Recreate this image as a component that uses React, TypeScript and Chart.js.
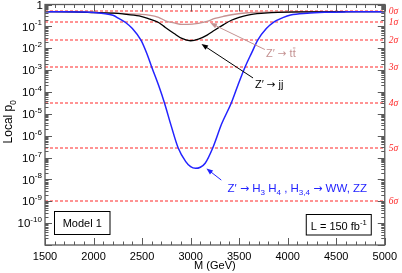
import React, { useEffect, useRef } from "react";
import { Chart, registerables } from "chart.js";

Chart.register(...registerables);

// ---------- data ----------
const blueMass = [1500, 1700, 1900, 2000, 2100, 2200, 2260, 2330, 2400, 2490, 2550, 2600, 2670, 2730, 2800, 2870, 2950, 3000, 3050, 3100, 3150, 3230, 3320, 3420, 3490, 3560, 3630, 3690, 3780, 3860, 3950, 4030, 4200, 4380, 4600, 5000];
const blueP = [0.47, 0.47, 0.45, 0.43, 0.39, 0.32, 0.23, 0.15, 0.079, 0.023, 5.6e-3, 1.35e-3, 2.0e-4, 3.2e-5, 2.8e-6, 2.9e-7, 6.5e-8, 3.8e-8, 3.2e-8, 3.6e-8, 5.5e-8, 2.9e-7, 3.5e-6, 3.2e-5, 2.2e-4, 1.35e-3, 6.3e-3, 0.023, 0.079, 0.16, 0.25, 0.33, 0.40, 0.44, 0.46, 0.47];

const jjMass = [1500, 1800, 2000, 2200, 2300, 2470, 2570, 2670, 2740, 2830, 2910, 3000, 3080, 3170, 3250, 3340, 3420, 3500, 3590, 3760, 3900, 4200, 5000];
const jjP = [0.47, 0.46, 0.43, 0.40, 0.37, 0.30, 0.22, 0.15, 0.089, 0.047, 0.028, 0.022, 0.026, 0.040, 0.068, 0.12, 0.19, 0.26, 0.33, 0.40, 0.44, 0.46, 0.47];

const ttMass = [1500, 2000, 2300, 2470, 2570, 2670, 2740, 2840, 2910, 2970, 3080, 3170, 3250, 3340, 3420, 3590, 3800, 5000];
const ttP = [0.47, 0.44, 0.39, 0.36, 0.33, 0.26, 0.18, 0.14, 0.123, 0.123, 0.138, 0.17, 0.23, 0.29, 0.34, 0.42, 0.45, 0.47];

const sigmaLabels = ["0", "1", "2", "3", "4", "5", "6"];
const sigmaP = [0.5, 0.1587, 0.02275, 1.35e-3, 3.167e-5, 2.867e-7, 9.866e-10];

const xTickLabels = [1500, 2000, 2500, 3000, 3500, 4000, 4500, 5000];
const yDecades = [0, -1, -2, -3, -4, -5, -6, -7, -8, -9, -10];

const X_MIN = 1500;
const X_MAX = 5000;
const Y_MIN = 1e-11;
const Y_MAX = 1;

// ---------- styling ----------
const FONT = "'Liberation Sans', Arial, Helvetica, sans-serif";
const ARROW_FONT = "'DejaVu Sans', sans-serif";
const BLUE = "rgb(35,35,255)";
const BROWN = "rgb(196,146,146)";
const RED = "rgb(255,40,40)";
const FRAME = "#5a5a5a";

type Seg = { t: string; s?: "sub" | "sup"; bar?: boolean; arrow?: boolean };

function segSize(seg: Seg, size: number) {
  return seg.s ? size * 0.7 : seg.arrow ? size * 0.95 : size;
}
function segFont(seg: Seg, size: number, style: string) {
  return `${style}${segSize(seg, size)}px ${seg.arrow ? ARROW_FONT : FONT}`;
}

function richWidth(ctx: CanvasRenderingContext2D, segs: Seg[], size: number, style = "") {
  let w = 0;
  for (const sg of segs) {
    ctx.font = segFont(sg, size, style);
    w += ctx.measureText(sg.t).width;
  }
  return w;
}

function drawRich(
  ctx: CanvasRenderingContext2D,
  segs: Seg[],
  x: number,
  y: number,
  size: number,
  color: string,
  align: "left" | "center" | "right" = "left",
  style = ""
) {
  const w = richWidth(ctx, segs, size, style);
  let cx = align === "left" ? x : align === "center" ? x - w / 2 : x - w;
  const base = y + size * 0.36;
  ctx.save();
  ctx.fillStyle = color;
  ctx.strokeStyle = color;
  ctx.textAlign = "left";
  ctx.textBaseline = "alphabetic";
  for (const sg of segs) {
    ctx.font = segFont(sg, size, style);
    const dy = sg.s === "sub" ? size * 0.28 : sg.s === "sup" ? -size * 0.45 : 0;
    ctx.fillText(sg.t, cx, base + dy);
    const tw = ctx.measureText(sg.t).width;
    if (sg.bar) {
      const cw = ctx.measureText(sg.t.slice(-1)).width;
      ctx.lineWidth = 0.9;
      ctx.beginPath();
      ctx.moveTo(cx + tw - cw + 0.3, base - size * 0.86);
      ctx.lineTo(cx + tw - 0.3, base - size * 0.86);
      ctx.stroke();
    }
    cx += tw;
  }
  ctx.restore();
}

function arrow(ctx: CanvasRenderingContext2D, x0: number, y0: number, x1: number, y1: number, color: string) {
  const ang = Math.atan2(y1 - y0, x1 - x0);
  const L = 6.5;
  const W = 2.6;
  ctx.save();
  ctx.strokeStyle = color;
  ctx.fillStyle = color;
  ctx.lineWidth = 1;
  ctx.beginPath();
  ctx.moveTo(x0, y0);
  ctx.lineTo(x1 - Math.cos(ang) * L * 0.8, y1 - Math.sin(ang) * L * 0.8);
  ctx.stroke();
  ctx.beginPath();
  ctx.moveTo(x1, y1);
  ctx.lineTo(x1 - Math.cos(ang) * L - Math.sin(ang) * W, y1 - Math.sin(ang) * L + Math.cos(ang) * W);
  ctx.lineTo(x1 - Math.cos(ang) * L + Math.sin(ang) * W, y1 - Math.sin(ang) * L - Math.cos(ang) * W);
  ctx.closePath();
  ctx.fill();
  ctx.restore();
}

// places the horizontal significance lines on a pixel boundary so every one renders alike
const snapLevels = {
  id: "snapLevels",
  afterDatasetsUpdate(chart: any) {
    chart.data.datasets.forEach((ds: any, i: number) => {
      if (!ds.isLevel) return;
      const meta = chart.getDatasetMeta(i);
      meta.data.forEach((pt: any) => {
        pt.y = Math.round(pt.y);
      });
    });
  },
};

const decor = {
  id: "decor",
  afterDatasetsDraw(chart: any) {
    const ctx: CanvasRenderingContext2D = chart.ctx;
    const { left, right, top, bottom } = chart.chartArea;
    const xs = chart.scales.x;
    const ys = chart.scales.y;
    const px = (m: number) => xs.getPixelForValue(m);
    const py = (p: number) => ys.getPixelForValue(p);

    ctx.save();
    // frame
    ctx.strokeStyle = FRAME;
    ctx.lineWidth = 1.3;
    ctx.strokeRect(left, top, right - left, bottom - top);

    // x ticks (top & bottom, inward)
    ctx.lineWidth = 1;
    ctx.beginPath();
    for (let m = X_MIN; m <= X_MAX; m += 100) {
      const x = Math.round(px(m)) + 0.5;
      const len = m % 500 === 0 ? 7 : 3.5;
      ctx.moveTo(x, bottom);
      ctx.lineTo(x, bottom - len);
      ctx.moveTo(x, top);
      ctx.lineTo(x, top + len);
    }
    // y ticks (left & right, inward)
    for (let e = -11; e <= 0; e++) {
      for (let k = 1; k <= 9; k++) {
        const v = k * Math.pow(10, e);
        if (v > Y_MAX * 1.0001) break;
        const y = Math.round(py(v)) + 0.5;
        const len = k === 1 ? 7 : 3.5;
        ctx.moveTo(left, y);
        ctx.lineTo(left + len, y);
        ctx.moveTo(right, y);
        ctx.lineTo(right - len, y);
      }
    }
    ctx.stroke();

    // y tick labels
    for (const e of yDecades) {
      const y = py(Math.pow(10, e));
      if (e === 0) {
        drawRich(ctx, [{ t: "1" }], left - 2, y, 11.5, "#000", "right");
      } else {
        drawRich(ctx, [{ t: "10" }, { t: String(e), s: "sup" }], left - 3, y, 11.5, "#000", "right");
      }
    }

    // sigma labels on right
    ctx.fillStyle = RED;
    ctx.textBaseline = "middle";
    ctx.textAlign = "left";
    ctx.font = `italic 9.5px 'Liberation Serif', serif`;
    sigmaLabels.forEach((s, i) => {
      ctx.fillText(s + "\u03c3", right + 4, py(sigmaP[i]) + 0.5);
    });

    // axis titles
    drawRich(ctx, [{ t: "M (GeV)" }], (left + right) / 2, 265, 11, "#000", "center");
    ctx.save();
    ctx.translate(8, (top + bottom) / 2 - 3);
    ctx.rotate(-Math.PI / 2);
    drawRich(ctx, [{ t: "Local p" }, { t: "0", s: "sub" }], 0, 0, 12, "#000", "center");
    ctx.restore();

    // annotations: tt
    arrow(ctx, px(3765), py(Math.pow(10, -2.06)), px(3204), py(Math.pow(10, -0.85)), BROWN);
    drawRich(ctx, [{ t: "Z\u2032 " }, { t: "\u2192", arrow: true }, { t: " t" }, { t: "t", bar: true }], px(3776), py(Math.pow(10, -2.24)), 11, BROWN, "left");
    // jj
    arrow(ctx, px(3643), py(Math.pow(10, -3.36)), px(3112), py(Math.pow(10, -1.81)), "#000");
    drawRich(ctx, [{ t: "Z\u2032 " }, { t: "\u2192", arrow: true }, { t: " jj" }], px(3663), py(Math.pow(10, -3.66)), 11, "#000", "left");
    // blue
    arrow(ctx, px(3316), py(Math.pow(10, -8.03)), px(3163), py(Math.pow(10, -7.5)), BLUE);
    drawRich(
      ctx,
      [
        { t: "Z\u2032 " },
        { t: "\u2192", arrow: true },
        { t: " H" },
        { t: "3", s: "sub" },
        { t: " H" },
        { t: "4", s: "sub" },
        { t: " , H" },
        { t: "3,4", s: "sub" },
        { t: " " },
        { t: "\u2192", arrow: true },
        { t: " WW, ZZ" },
      ],
      px(3380),
      py(Math.pow(10, -8.37)),
      11.5,
      BLUE,
      "left"
    );

    // boxes
    ctx.fillStyle = "#fff";
    ctx.strokeStyle = "#000";
    ctx.lineWidth = 1;
    const b1 = { x: left + 9.5, y: bottom - 33.5, w: 55.5, h: 23 };
    ctx.fillRect(b1.x, b1.y, b1.w, b1.h);
    ctx.strokeRect(b1.x, b1.y, b1.w, b1.h);
    drawRich(ctx, [{ t: "Model 1" }], b1.x + b1.w / 2, b1.y + b1.h / 2, 11, "#000", "center");
    const b2 = { x: right - 78.5, y: bottom - 30.5, w: 65, h: 20.5 };
    ctx.fillStyle = "#fff";
    ctx.fillRect(b2.x, b2.y, b2.w, b2.h);
    ctx.strokeRect(b2.x, b2.y, b2.w, b2.h);
    drawRich(ctx, [{ t: "L = 150 fb" }, { t: "-1", s: "sup" }], b2.x + b2.w / 2, b2.y + b2.h / 2 + 1, 11, "#000", "center");

    ctx.restore();
  },
};

function series(xs: number[], ys: number[]) {
  return xs.map((x, i) => ({ x, y: ys[i] }));
}

export default function App() {
  const ref = useRef<HTMLCanvasElement>(null);
  useEffect(() => {
    document.body.style.margin = "0";
    const curveDefaults = { pointRadius: 0, fill: false, cubicInterpolationMode: "monotone" as const };
    const datasets: any[] = [
      { label: "Z' -> H3 H4", data: series(blueMass, blueP), borderColor: BLUE, backgroundColor: BLUE, borderWidth: 1.5, order: 0, ...curveDefaults },
      { label: "Z' -> jj", data: series(jjMass, jjP), borderColor: "#000", backgroundColor: "#000", borderWidth: 1.3, order: 1, ...curveDefaults },
      { label: "Z' -> tt", data: series(ttMass, ttP), borderColor: BROWN, backgroundColor: BROWN, borderWidth: 1.3, order: 2, ...curveDefaults },
      ...sigmaP.map((p, i) => ({
        label: sigmaLabels[i] + " sigma",
        isLevel: true,
        data: [
          { x: X_MIN, y: p },
          { x: X_MAX, y: p },
        ],
        borderColor: i === 2 ? "rgb(255,150,150)" : RED,
        backgroundColor: RED,
        borderWidth: i === 2 ? 2.2 : 1.2,
        borderDash: [3, 2],
        pointRadius: 0,
        fill: false,
        order: 5,
      })),
    ];
    const chart = new Chart(ref.current as HTMLCanvasElement, {
      type: "line",
      data: { datasets },
      options: {
        animation: false,
        responsive: false,
        maintainAspectRatio: false,
        layout: { padding: { left: 45, right: 14, top: 4.5, bottom: 0 } },
        plugins: { legend: { display: false }, tooltip: { enabled: false }, colors: { enabled: false } },
        scales: {
          x: {
            type: "linear",
            min: X_MIN,
            max: X_MAX,
            afterFit: (s: any) => {
              s.height = 28;
            },
            afterBuildTicks: (s: any) => {
              s.ticks = xTickLabels.map((v) => ({ value: v }));
            },
            grid: { display: false, drawTicks: false },
            border: { display: false },
            ticks: {
              padding: 5,
              color: "#000",
              font: { family: FONT, size: 11 },
              maxRotation: 0,
              autoSkip: false,
              callback: (v: any) => String(v),
            },
          },
          y: { type: "logarithmic", min: Y_MIN, max: Y_MAX, display: false },
        },
      },
      plugins: [snapLevels, decor],
    } as any);
    return () => chart.destroy();
  }, []);
  return (
    <div style={{ width: 402, height: 273 }}>
      <canvas ref={ref} width={402} height={273} style={{ display: "block" }} />
    </div>
  );
}
